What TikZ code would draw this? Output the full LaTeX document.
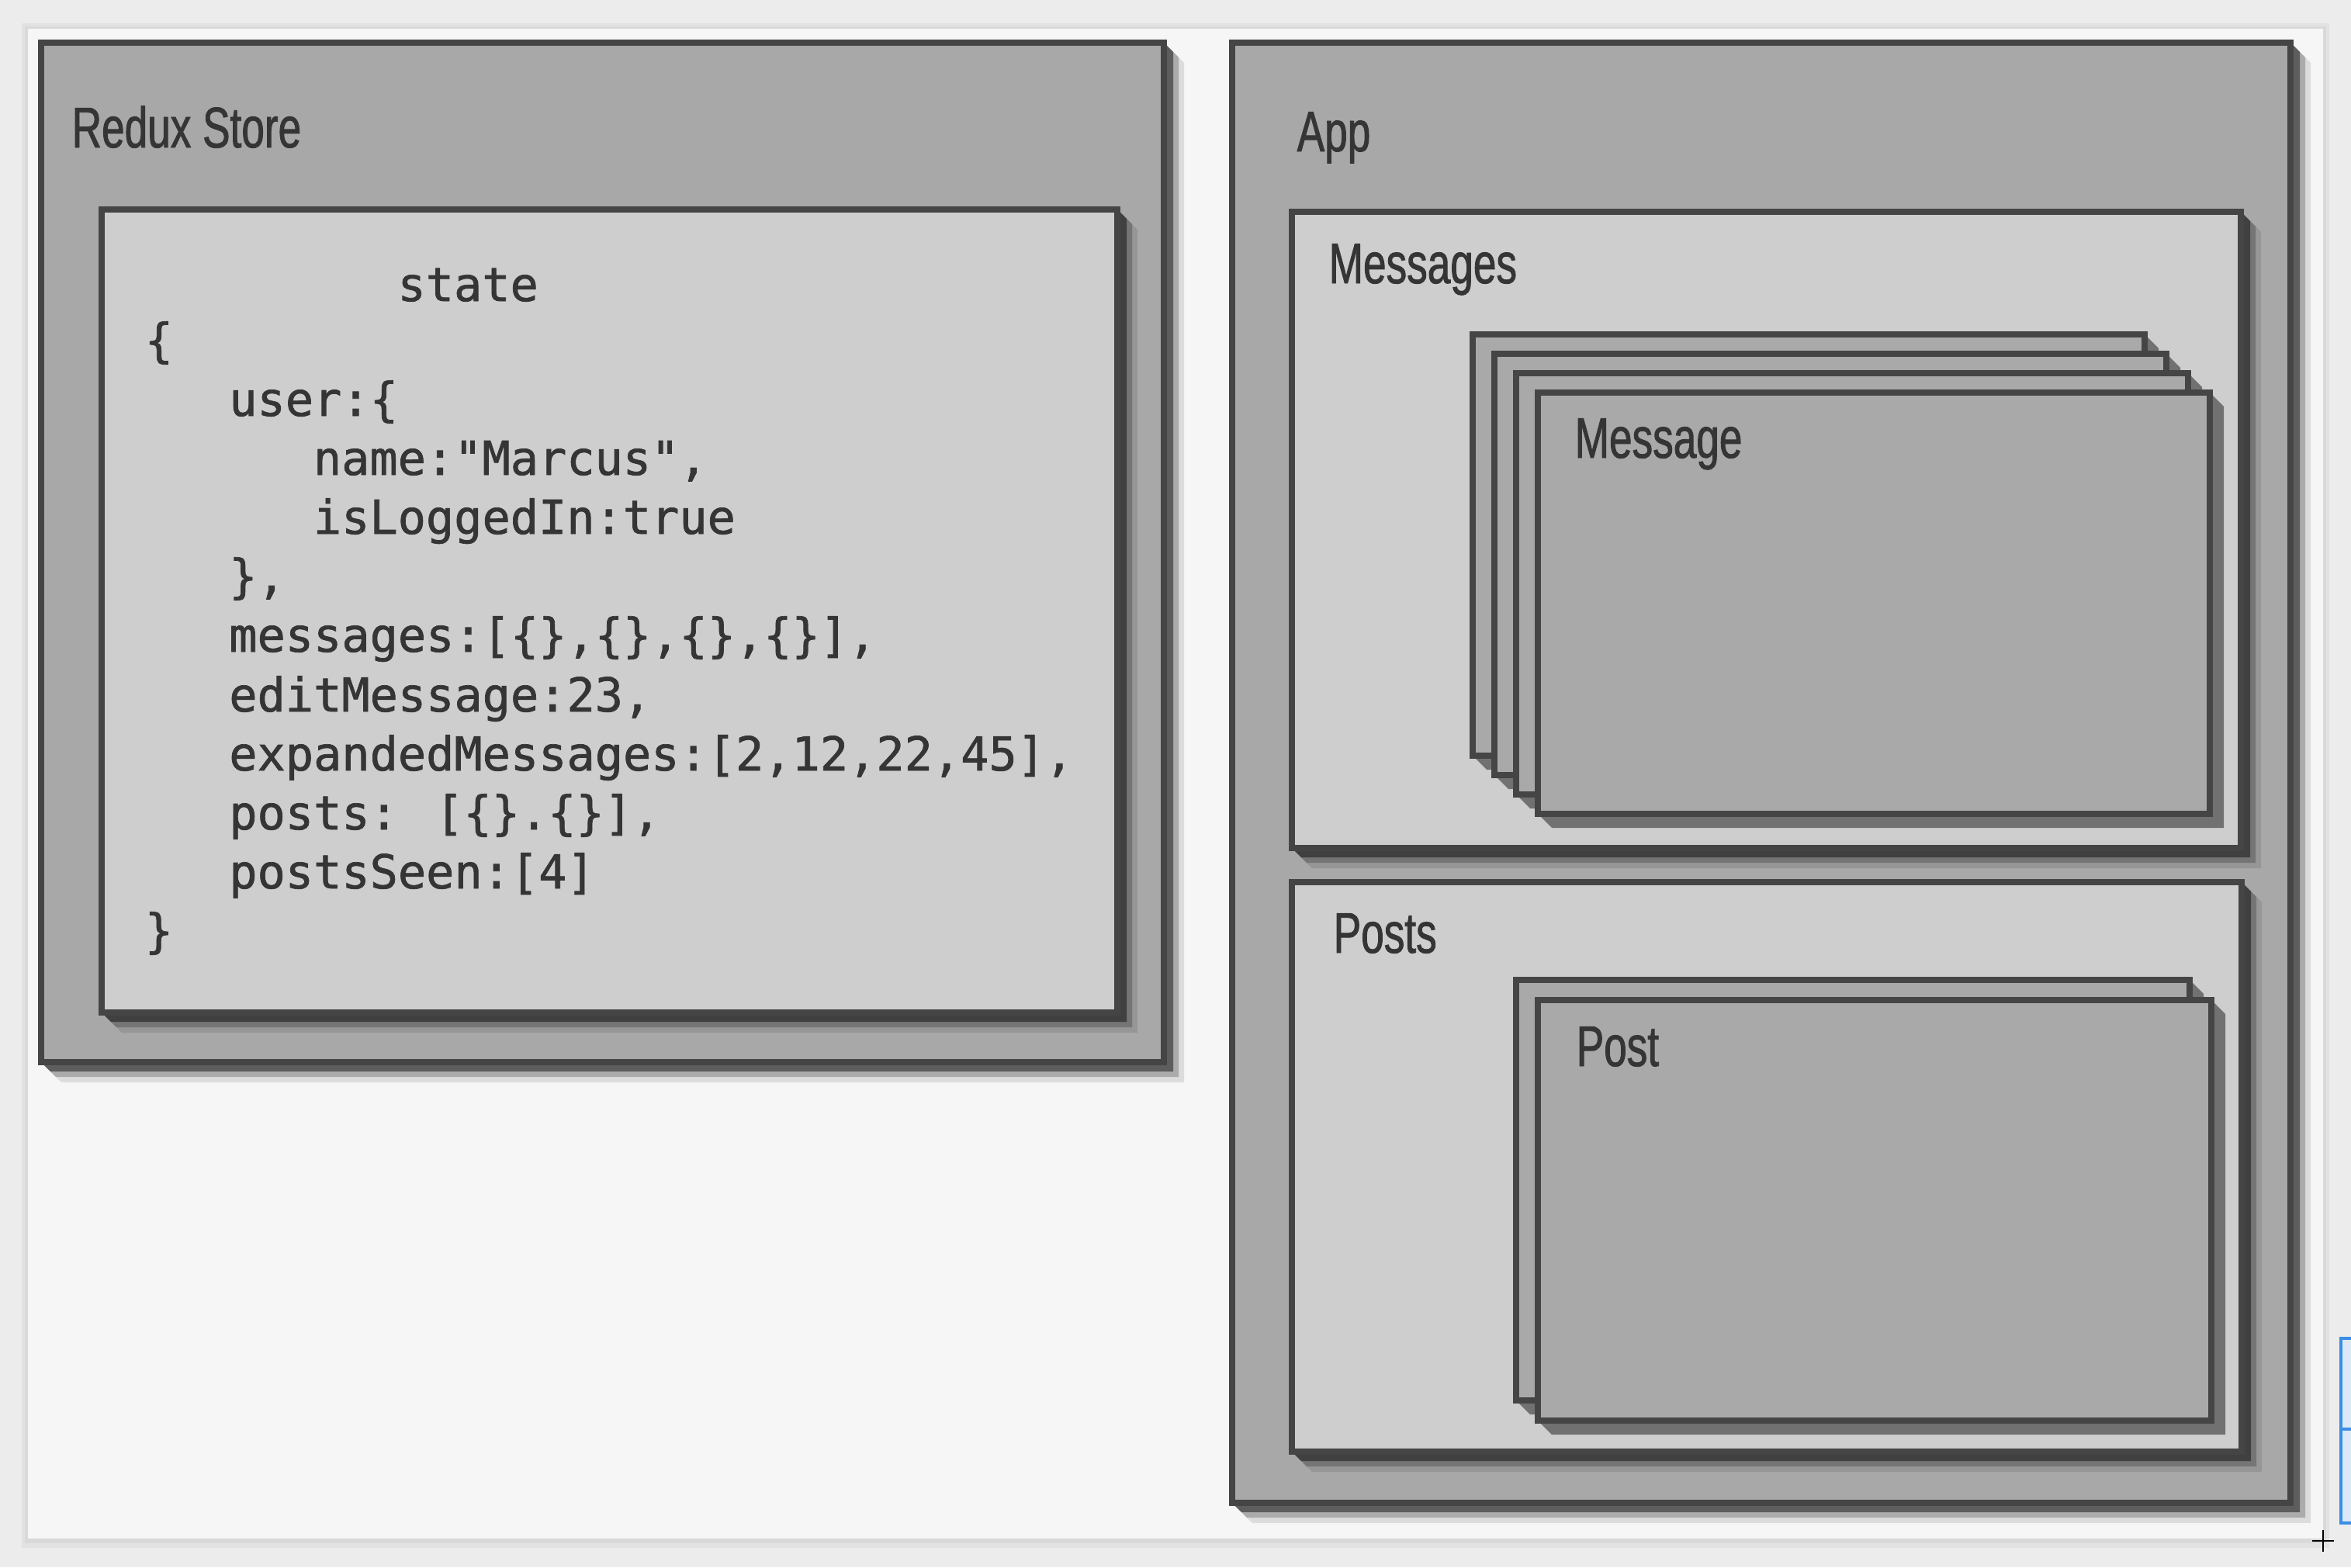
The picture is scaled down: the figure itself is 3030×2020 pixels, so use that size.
\documentclass[tikz,border=0pt]{standalone}
\usepackage{fontspec}
\newfontfamily\labelfont[FakeStretch=0.72, FakeBold=1.2]{Liberation Sans}
\newfontfamily\codefont[FakeBold=1.2]{DejaVu Sans Mono}
\definecolor{bgc}{HTML}{ECECEC}
\definecolor{cardc}{HTML}{F6F6F6}
\definecolor{outerfill}{HTML}{A8A8A8}
\definecolor{innerfill}{HTML}{CECECE}
\definecolor{cardfill}{HTML}{A9A9A9}
\definecolor{edge}{HTML}{454545}
\definecolor{txt}{HTML}{353535}
\definecolor{selblue}{HTML}{3A8EE6}
\definecolor{selfill}{HTML}{DCE8F5}
\newcommand{\shadowpoly}[6]{% l t r b d opacity
  \fill[black, opacity=#6] (#3,#2) -- ++(#5,#5) |- (#1+#5,#4+#5) -- (#1,#4) -- cycle;}
\newcommand{\softshadow}[4]{%
  \shadowpoly{#1}{#2}{#3}{#4}{26}{0.10}%
  \shadowpoly{#1}{#2}{#3}{#4}{19}{0.22}%
  \shadowpoly{#1}{#2}{#3}{#4}{12}{0.45}}
\tikzset{
  lbl/.style={anchor=base west, inner sep=0pt, font=\labelfont\fontsize{21}{21}\selectfont, text=txt},
  code/.style={anchor=base west, inner sep=0pt, font=\codefont\fontsize{17.13}{17}\selectfont, text=txt},
  boxline/.style={draw=edge, line width=2.2pt},
}
\begin{document}
\begin{tikzpicture}[x=0.01cm, y=-0.01cm]
\useasboundingbox (0,0) rectangle (3030,2020);
% page background and white card
\fill[bgc] (0,0) rectangle (3030,2020);
\fill[black, opacity=0.04] (28,30) rectangle (3002,1995);
\fill[black, opacity=0.04] (32,34) rectangle (2998,1989);
\fill[cardc] (36,37) rectangle (2994,1983);

% ---------- Redux Store ----------
\softshadow{53}{55}{1500}{1369}
\draw[boxline, fill=outerfill] (53,55) rectangle (1500,1369);
\node[lbl] (redux) at (92,190) {Redux Store};
\softshadow{131}{270}{1440}{1305}
\draw[boxline, fill=innerfill] (131,270) rectangle (1440,1305);
\node[code] (cst) at (511.8,388) {state};
\node[code] (c0) at (186,460) {\{};
\node[code] (c1) at (294.6,536) {user:\{};
\node[code] (c2) at (403.2,612) {name:"Marcus",};
\node[code] (c3) at (403.2,688) {isLoggedIn:true};
\node[code] (c4) at (294.6,764) {\},};
\node[code] (c5) at (294.6,840) {messages:[\{\},\{\},\{\},\{\}],};
\node[code] (c6) at (294.6,917) {editMessage:23,};
\node[code] (c7) at (294.6,993) {expandedMessages:[2,12,22,45],};
\node[code] (c8) at (294.6,1069) {posts: [\{\}.\{\}],};
\node[code] (c9) at (294.6,1145) {postsSeen:[4]};
\node[code] (c10) at (186,1221) {\}};

% ---------- App ----------
\softshadow{1588}{55}{2952}{1937}
\draw[boxline, fill=outerfill] (1588,55) rectangle (2952,1937);
\node[lbl] (app) at (1671,195) {App};

% Messages
\softshadow{1665}{273}{2888}{1093}
\draw[boxline, fill=innerfill] (1665,273) rectangle (2888,1093);
\node[lbl] (messages) at (1712,365) {Messages};
\foreach \dx/\dy in {0/0, 28/25, 56/50, 84/75}{
  \shadowpoly{1898+\dx}{431+\dy}{2764+\dx}{974+\dy}{18}{0.45}
  \draw[boxline, fill=cardfill] (1898+\dx,431+\dy) rectangle (2764+\dx,974+\dy);
}
\node[lbl] (message) at (2029,590) {Message};

% Posts
\softshadow{1665}{1137}{2889}{1871}
\draw[boxline, fill=innerfill] (1665,1137) rectangle (2889,1871);
\node[lbl] (posts) at (1718,1228) {Posts};
\foreach \dx/\dy in {0/0, 28/26}{
  \shadowpoly{1954+\dx}{1263+\dy}{2822+\dx}{1805+\dy}{18}{0.45}
  \draw[boxline, fill=cardfill] (1954+\dx,1263+\dy) rectangle (2822+\dx,1805+\dy);
}
\node[lbl] (post) at (2031,1374) {Post};

% selection artefacts at the right edge
\draw[draw=selblue, line width=1.2pt, fill=selfill] (3017,1725) rectangle (3045,1963);
\draw[draw=selblue, line width=1.2pt] (3017,1842) -- (3045,1842);
\draw[black, line width=0.6pt] (2980,1986) -- (3008,1986);
\draw[black, line width=0.6pt] (2994,1972) -- (2994,2000);
\end{tikzpicture}
\end{document}
